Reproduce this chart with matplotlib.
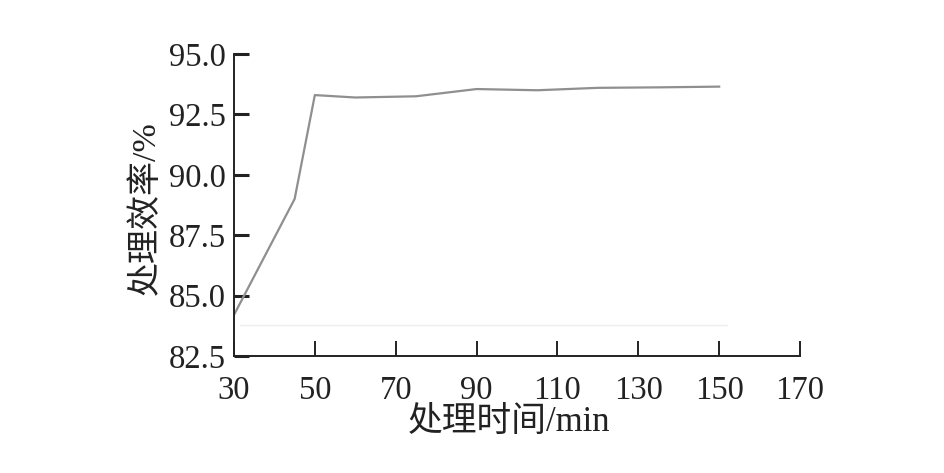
import matplotlib.pyplot as plt

plt.rcParams['font.family'] = ['Liberation Serif', 'Noto Sans CJK SC']

# processing time (min) and treatment efficiency (%)
time_min = [30, 45, 50, 60, 75, 90, 105, 120, 135, 150]
efficiency = [84.2, 89.0, 93.3, 93.2, 93.25, 93.55, 93.5, 93.6, 93.62, 93.65]

# faint guide line seen near the bottom of the plot
guide_x = [31.5, 152]
guide_y = [83.8, 83.8]

x_ticks = [30, 50, 70, 90, 110, 130, 150, 170]
y_ticks = [82.5, 85.0, 87.5, 90.0, 92.5, 95.0]

fig = plt.figure(figsize=(9.45, 4.73), dpi=100)
ax = fig.add_axes([0.2476, 0.2474, 0.599, 0.6384])

ax.plot(guide_x, guide_y, color='#eeeeee', linewidth=1.0)
ax.plot(time_min, efficiency, color='#8f8f8f', linewidth=1.6)

ax.set_xlim(30, 170)
ax.set_ylim(82.5, 95.0)
ax.set_xticks(x_ticks)
ax.set_yticks(y_ticks)
ax.set_yticklabels(['%.1f' % v for v in y_ticks])

for side in ['top', 'right']:
    ax.spines[side].set_visible(False)
for side in ['left', 'bottom']:
    ax.spines[side].set_linewidth(1.4)
    ax.spines[side].set_color('#222222')

ax.tick_params(axis='both', direction='in', length=11, width=1.4,
               labelsize=23.5, colors='#222222')
ax.tick_params(axis='x', pad=14)
ax.tick_params(axis='y', pad=6, width=2.2)

ax.set_xlabel('处理时间/min', fontsize=25, color='#222222')
ax.set_ylabel('处理效率/%', fontsize=24.5, color='#222222')
ax.xaxis.set_label_coords(0.486, -0.165)
ax.yaxis.set_label_coords(-0.128, 0.49)

fig.savefig('out.png', dpi=100)
